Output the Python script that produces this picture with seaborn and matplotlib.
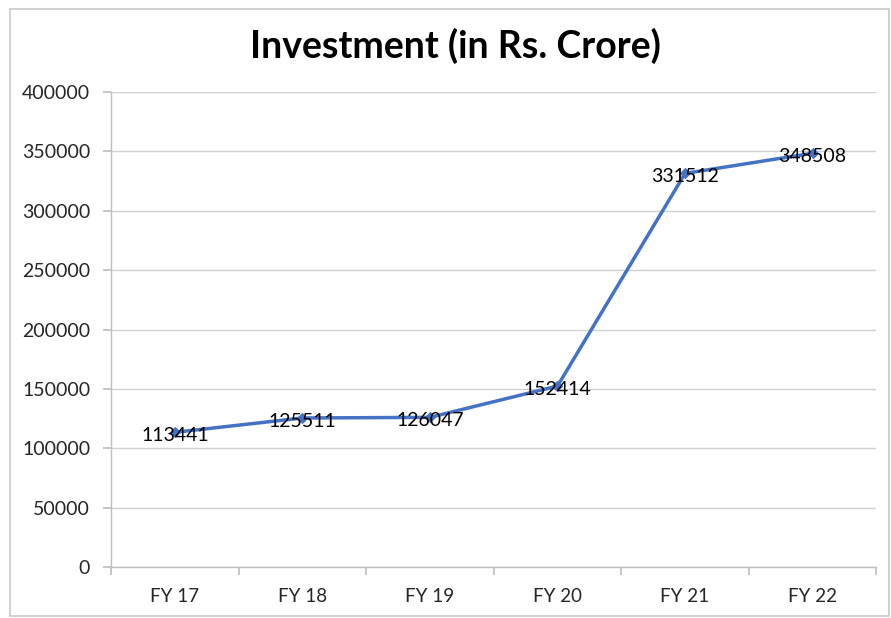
import matplotlib
matplotlib.use("Agg")
import matplotlib.pyplot as plt
import seaborn as sns
import pandas as pd
from matplotlib.patches import Rectangle

categories = ["FY 17", "FY 18", "FY 19", "FY 20", "FY 21", "FY 22"]
investment = [113441, 125511, 126047, 152414, 331512, 348508]

df = pd.DataFrame({"pos": list(range(len(categories))), "value": investment})

sns.set_theme(style="white")
plt.rcParams['font.family'] = ['Lato', 'DejaVu Sans']

fig = plt.figure(figsize=(8.91, 6.18), dpi=100)
ax = fig.add_axes([0.1246, 0.0825, 0.859, 0.7685])

sns.lineplot(data=df, x="pos", y="value", ax=ax, color="#4472C4", linewidth=2.5,
             marker="D", markersize=5, markeredgecolor="#4472C4")

for x, y in zip(df["pos"], df["value"]):
    ax.text(x, y - 3000, f"{y}", ha="center", va="center", fontsize=14, color="black")

ax.set_xlim(-0.5, len(categories) - 0.5)
ax.set_ylim(0, 400000)
ax.set_yticks(range(0, 400001, 50000))
ax.set_yticklabels([str(v) for v in range(0, 400001, 50000)], fontsize=14)
ax.set_xticks([i - 0.5 for i in range(len(categories) + 1)])
ax.set_xticklabels([])
ax.set_xticks(range(len(categories)), minor=True)
ax.set_xticklabels(categories, minor=True, fontsize=13.5)
ax.tick_params(axis="x", which="major", length=6, color="#bfbfbf", direction="out", bottom=True)
ax.tick_params(axis="x", which="minor", length=0, pad=15, bottom=True)
ax.tick_params(axis="y", length=6, color="#bfbfbf", direction="out", left=True, pad=9)
ax.grid(axis="y", color="#d0d0d0", linewidth=1)
ax.set_axisbelow(True)
for s in ["top", "right"]:
    ax.spines[s].set_visible(False)
for s in ["left", "bottom"]:
    ax.spines[s].set_color("#bfbfbf")
    ax.spines[s].set_linewidth(1)
ax.set_xlabel("")
ax.set_ylabel("")

fig.text(0.511, 0.925, "Investment (in Rs. Crore)", ha="center", va="center",
         fontsize=27, fontweight="bold", color="black")

fig.patches.append(Rectangle((0.011, 0.003), 0.987, 0.983, transform=fig.transFigure,
                             fill=False, edgecolor="#c8c8c8", linewidth=1.2))

fig.savefig("out.png", dpi=100)
